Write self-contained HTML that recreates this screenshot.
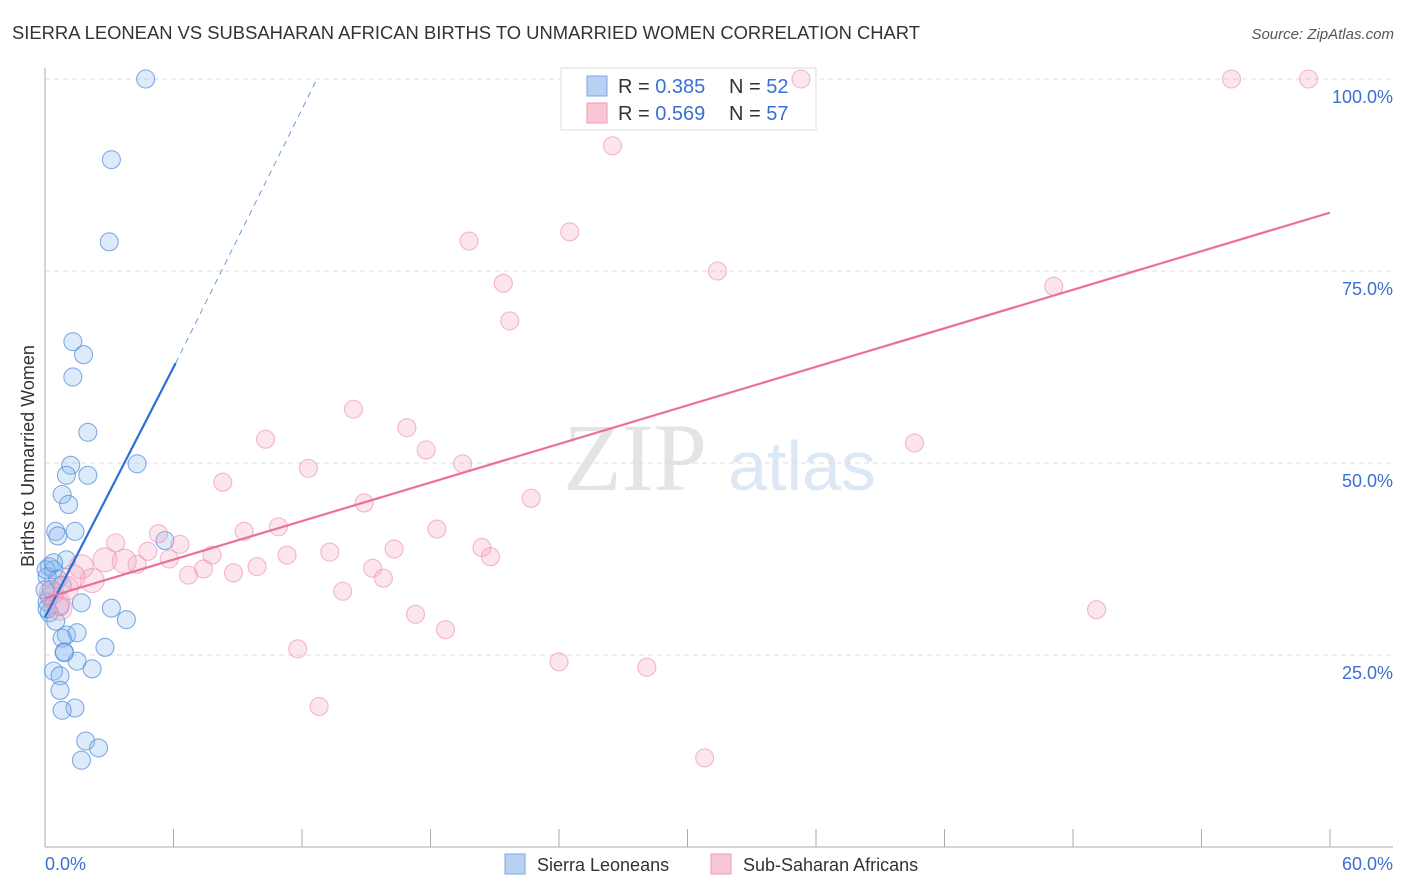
<!DOCTYPE html>
<html><head><meta charset="utf-8"><style>
body{margin:0;background:#fff;font-family:"Liberation Sans",sans-serif;}
svg{display:block}
</style></head><body>
<svg id="chart" width="1406" height="892">
<text x="12" y="39" font-size="18" fill="#333" textLength="908" lengthAdjust="spacingAndGlyphs">SIERRA LEONEAN VS SUBSAHARAN AFRICAN BIRTHS TO UNMARRIED WOMEN CORRELATION CHART</text>
<text x="1394" y="39" font-size="15" fill="#555" font-style="italic" text-anchor="end">Source: ZipAtlas.com</text>
<text x="635" y="490" font-size="96" fill="#e4e4e4" font-family="Liberation Serif,serif" text-anchor="middle">ZIP</text>
<text x="802" y="490" font-size="70" fill="#dde8f6" text-anchor="middle">atlas</text>
<g id="grid"></g><g id="axes"></g>
<g>
<rect x="561" y="68" width="255" height="62" fill="#fff" stroke="#ddd"/>
<rect x="587" y="76" width="20" height="20" fill="#b8d1f3" stroke="#7aa6e6"/>
<rect x="587" y="103" width="20" height="20" fill="#f8c7d6" stroke="#ee9ab4"/>
<text x="618" y="93" font-size="20" fill="#333">R = <tspan fill="#3b6fd4">0.385</tspan></text>
<text x="729" y="93" font-size="20" fill="#333">N = <tspan fill="#3b6fd4">52</tspan></text>
<text x="618" y="120" font-size="20" fill="#333">R = <tspan fill="#3b6fd4">0.569</tspan></text>
<text x="729" y="120" font-size="20" fill="#333">N = <tspan fill="#3b6fd4">57</tspan></text>
</g>
<g id="pts"></g><g id="trend"></g>
<text transform="translate(34,456) rotate(-90)" font-size="18" fill="#333" text-anchor="middle">Births to Unmarried Women</text>
<text x="45" y="870" font-size="18" fill="#3b6fd4">0.0%</text>
<text x="1393" y="870" font-size="18" fill="#3b6fd4" text-anchor="end">60.0%</text>
<g>
<rect x="505" y="854" width="20" height="20" fill="#b8d1f3" stroke="#7aa6e6"/>
<text x="537" y="871" font-size="18" fill="#333">Sierra Leoneans</text>
<rect x="711" y="854" width="20" height="20" fill="#f8c7d6" stroke="#ee9ab4"/>
<text x="743" y="871" font-size="18" fill="#333">Sub-Saharan Africans</text>
</g>
</svg>
<script>
const yTicks=[25,50,75,100];
const yTickLabels=["25.0%","50.0%","75.0%","100.0%"];
const xTicks=[0,6,12,18,24,30,36,42,48,54,60];
const blueX=[4.7,3.1,3.0,1.3,1.8,1.3,2.0,1.2,1.0,2.0,0.8,1.1,4.3,1.4,0.5,0.6,5.6,1.0,0.2,0.4,0.1,0.8,0.2,0.1,0.7,1.7,3.1,3.8,0.2,0.5,1.0,1.5,0.8,0.9,2.8,1.5,2.2,0.4,0.7,0.7,1.4,0.8,1.9,2.5,1.7,0.1,0.3,0.05,0.6,0.4,0.0,0.9];
const blueY=[100,89.5,78.8,65.8,64.1,61.2,54.0,49.7,48.4,48.4,45.9,44.6,49.9,41.1,41.1,40.5,39.9,37.4,36.5,36.1,35.2,34.1,32.6,31.9,31.3,31.8,31.1,29.6,30.5,29.4,27.6,27.9,27.2,25.4,26.0,24.2,23.2,22.9,22.3,20.4,18.1,17.8,13.8,12.9,11.3,31.0,33.5,36.1,34.9,37.0,33.5,25.3];
const pinkX=[35.3,55.4,59.0,26.5,19.8,24.5,31.4,21.4,21.7,47.1,14.4,16.9,10.3,17.8,40.6,12.3,19.5,8.3,14.9,22.7,18.3,5.3,10.9,9.3,6.3,4.8,16.3,20.4,20.8,13.3,11.3,7.8,5.8,4.3,7.4,15.3,9.9,8.8,6.7,15.8,13.9,17.3,18.7,49.1,11.8,24.0,28.1,12.8,30.8,3.3,2.8,3.7,1.7,2.2,1.3,1.0,0.6,0.3,0.7];
const pinkY=[100,100,100,91.3,78.9,80.1,75.0,73.4,68.5,73.0,57.0,54.6,53.1,51.7,52.6,49.3,49.9,47.5,44.8,45.4,41.4,40.8,41.7,41.1,39.4,38.5,38.8,39.0,37.8,38.4,38.0,38.0,37.5,36.8,36.2,36.3,36.5,35.7,35.4,35.0,33.3,30.3,28.3,30.9,25.8,24.1,23.4,18.3,11.6,39.6,37.4,37.2,36.5,34.7,35.2,33.7,31.8,33.1,31.1];
const pinkR=[9,9,9,9,9,9,9,9,9,9,9,9,9,9,9,9,9,9,9,9,9,9,9,9,9,9,9,9,9,9,9,9,9,9,9,9,9,9,9,9,9,9,9,9,9,9,9,9,9,9,12,12,12,12,12,12,12,12,12];
const blueTrend=[[0,29.9],[6.1,63.0],[12.7,100]];
const pinkTrend=[[0,32.4],[60,82.6]];
const X=v=>45+v*(1330-45)/60, Y=v=>847-v*7.68;
const NS="http://www.w3.org/2000/svg";
function mk(tag,attrs,parent){const e=document.createElementNS(NS,tag);for(const k in attrs)e.setAttribute(k,attrs[k]);document.getElementById(parent).appendChild(e);return e;}
yTicks.forEach((t,i)=>{
 const g=mk('line',{x1:45,x2:1393,y1:Y(t),y2:Y(t),stroke:'#ddd','stroke-dasharray':'5,4'},'grid');
 
 
 const tx=mk('text',{x:1393,y:Y(t)+24,'font-size':18,fill:'#3b6fd4','text-anchor':'end'},'grid');
 tx.textContent=yTickLabels[i];
 
 
});
const ax=mk('line',{x1:45,x2:45,y1:68,y2:847,stroke:'#aaa'},'axes');


const bx=mk('line',{x1:45,x2:1393,y1:847,y2:847,stroke:'#aaa'},'axes');


xTicks.forEach(t=>{
 const l=mk('line',{x1:X(t),x2:X(t),y1:829,y2:847,stroke:'#aaa'},'axes');
 
 
});
blueX.forEach((v,i)=>{
 const c=mk('circle',{cx:X(v),cy:Y(blueY[i]),r:9,fill:'rgba(140,185,240,0.3)',stroke:'rgba(80,140,220,0.7)','stroke-width':1.1},'pts');
 
 
});
pinkX.forEach((v,i)=>{
 const c=mk('circle',{cx:X(v),cy:Y(pinkY[i]),r:pinkR[i],fill:'rgba(245,170,195,0.3)',stroke:'rgba(235,140,175,0.6)','stroke-width':1.1},'pts');
 
 
});
const b1=mk('line',{x1:X(blueTrend[0][0]),y1:Y(blueTrend[0][1]),x2:X(blueTrend[1][0]),y2:Y(blueTrend[1][1]),stroke:'#2c6fd6','stroke-width':2.2},'trend');


const b2=mk('line',{x1:X(blueTrend[1][0]),y1:Y(blueTrend[1][1]),x2:X(blueTrend[2][0]),y2:Y(blueTrend[2][1]),stroke:'#6a9be0','stroke-width':1,'stroke-dasharray':'6,5'},'trend');


const p1=mk('line',{x1:X(pinkTrend[0][0]),y1:Y(pinkTrend[0][1]),x2:X(pinkTrend[1][0]),y2:Y(pinkTrend[1][1]),stroke:'#e8709a','stroke-width':2.2},'trend');


</script>
</body></html>
